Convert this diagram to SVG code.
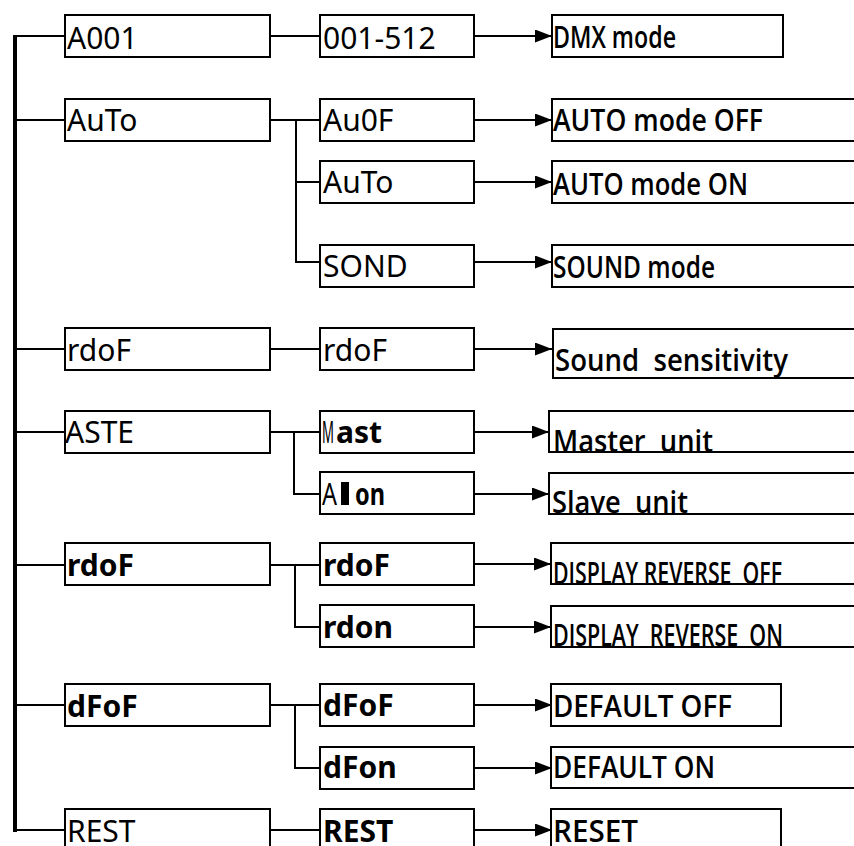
<svg xmlns="http://www.w3.org/2000/svg" width="854" height="846" viewBox="0 0 854 846">
<defs>
<marker id="arr" markerUnits="userSpaceOnUse" markerWidth="18" markerHeight="14" refX="17" refY="6.5" orient="auto">
<path d="M0,0 L17,6.5 L0,13 Z" fill="#000"/>
</marker>
<style>
.box{fill:#fff;stroke:#000;stroke-width:2}
.ln{fill:none;stroke:#000;stroke-width:2}
.ar{fill:none;stroke:#000;stroke-width:2;marker-end:url(#arr)}
.t{font-family:"Noto Sans","Open Sans","DejaVu Sans",sans-serif;font-size:30px;fill:#000}
.b{font-weight:bold}
.c{font-family:"Open Sans","Noto Sans","DejaVu Sans",sans-serif;font-size:31px;font-weight:600;fill:#000}
</style>
</defs>
<rect width="854" height="846" fill="#fff"/>

<g id="connectors">
<line x1="15" y1="35" x2="15" y2="832" stroke="#000" stroke-width="4"/>
<path class="ln" d="M15,36 H65 M15,120 H65 M15,349 H65 M15,432 H65 M15,565 H65 M15,705 H65 M15,830 H65"/>
<path class="ln" d="M270,36 H320"/>
<path class="ln" d="M270,120 H320 M296,120 V262 H320 M296,182 H320"/>
<path class="ln" d="M270,349 H320"/>
<path class="ln" d="M267,432 H320 M294,432 V494 H320"/>
<path class="ln" d="M270,565 H320 M295,565 V627 H320"/>
<path class="ln" d="M270,705 H320 M295,705 V768 H320"/>
<path class="ln" d="M270,830 H320"/>
<line class="ar" x1="474" y1="36" x2="552" y2="36"/>
<line class="ar" x1="474" y1="120" x2="552" y2="120"/>
<line class="ar" x1="474" y1="182" x2="552" y2="182"/>
<line class="ar" x1="474" y1="262" x2="552" y2="262"/>
<line class="ar" x1="474" y1="349" x2="552" y2="349"/>
<line class="ar" x1="472" y1="432" x2="549" y2="432"/>
<line class="ar" x1="472" y1="494" x2="549" y2="494"/>
<line class="ar" x1="474" y1="564" x2="551" y2="564"/>
<line class="ar" x1="474" y1="627" x2="551" y2="627"/>
<line class="ar" x1="474" y1="705" x2="552" y2="705"/>
<line class="ar" x1="474" y1="768" x2="552" y2="768"/>
<line class="ar" x1="474" y1="830" x2="552" y2="830"/>
</g>

<g id="n-A001"><rect class="box" x="65" y="15" width="205" height="42"/><text class="t" x="67" y="49">A001</text></g>
<g id="n-AuTo1"><rect class="box" x="65" y="99" width="205" height="42"/><text class="t" x="67" y="131">AuTo</text></g>
<g id="n-rdoF1"><rect class="box" x="65" y="328" width="205" height="42"/><text class="t" x="67" y="361">rdoF</text></g>
<g id="n-ASTE"><rect class="box" x="65" y="411" width="205" height="42"/><text class="t" x="65" y="443">ASTE</text></g>
<g id="n-rdoF2"><rect class="box" x="65" y="543" width="205" height="42"/><text class="t b" x="67" y="576">rdoF</text></g>
<g id="n-dFoF1"><rect class="box" x="65" y="684" width="205" height="42"/><text class="t b" x="67" y="717">dFoF</text></g>
<g id="n-REST1"><rect class="box" x="65" y="809" width="205" height="60"/><text class="t" x="67" y="842">REST</text></g>

<g id="n-001-512"><rect class="box" x="320" y="15" width="154" height="42"/><text class="t" x="323" y="49">001-512</text></g>
<g id="n-Au0F"><rect class="box" x="320" y="99" width="154" height="42"/><text class="t" x="323" y="131">Au0F</text></g>
<g id="n-AuTo2"><rect class="box" x="320" y="161" width="154" height="42"/><text class="t" x="323" y="193">AuTo</text></g>
<g id="n-SOND"><rect class="box" x="320" y="245" width="154" height="42"/><text class="t" x="323" y="277">SOND</text></g>
<g id="n-rdoF3"><rect class="box" x="320" y="328" width="154" height="42"/><text class="t" x="323" y="361">rdoF</text></g>
<g id="n-Mast"><rect class="box" x="320" y="411" width="154" height="42"/><text class="t" x="322" y="443" textLength="12" lengthAdjust="spacingAndGlyphs">M</text><text class="t b" x="336" y="443">ast</text></g>
<g id="n-Alon"><rect class="box" x="320" y="472" width="154" height="42"/><text class="t" x="322" y="505" textLength="15" lengthAdjust="spacingAndGlyphs">A</text><rect x="341" y="482" width="8" height="23" fill="#000"/><text class="t b" x="355" y="505" textLength="30" lengthAdjust="spacingAndGlyphs">on</text></g>
<g id="n-rdoF4"><rect class="box" x="320" y="543" width="154" height="42"/><text class="t b" x="323" y="576">rdoF</text></g>
<g id="n-rdon"><rect class="box" x="320" y="605" width="154" height="42"/><text class="t b" x="323" y="638">rdon</text></g>
<g id="n-dFoF2"><rect class="box" x="320" y="684" width="154" height="42"/><text class="t b" x="323" y="716">dFoF</text></g>
<g id="n-dFon"><rect class="box" x="320" y="747" width="154" height="42"/><text class="t b" x="323" y="778">dFon</text></g>
<g id="n-REST2"><rect class="box" x="320" y="809" width="154" height="60"/><text class="t b" x="323" y="842">REST</text></g>

<g id="n-dmx"><rect class="box" x="552" y="15" width="231" height="42"/><text class="c" x="553" y="48" textLength="123" lengthAdjust="spacingAndGlyphs">DMX mode</text></g>
<g id="n-autooff"><rect class="box" x="552" y="99" width="320" height="42"/><text class="c" x="553" y="131" textLength="210" lengthAdjust="spacingAndGlyphs">AUTO mode OFF</text></g>
<g id="n-autoon"><rect class="box" x="552" y="161" width="320" height="42"/><text class="c" x="553" y="195" textLength="195" lengthAdjust="spacingAndGlyphs">AUTO mode ON</text></g>
<g id="n-sound"><rect class="box" x="552" y="245" width="320" height="42"/><text class="c" x="553" y="278" textLength="162" lengthAdjust="spacingAndGlyphs">SOUND mode</text></g>
<g id="n-sens"><rect class="box" x="553" y="329" width="320" height="49"/><text class="c" x="555" y="371" textLength="233" lengthAdjust="spacingAndGlyphs" xml:space="preserve">Sound  sensitivity</text></g>
<g id="n-master"><rect class="box" x="549" y="411" width="320" height="41"/><text class="c" x="553" y="452" textLength="160" lengthAdjust="spacingAndGlyphs" xml:space="preserve">Master  unit</text></g>
<g id="n-slave"><rect class="box" x="549" y="473" width="320" height="41"/><text class="c" x="552" y="513" textLength="136" lengthAdjust="spacingAndGlyphs" xml:space="preserve">Slave  unit</text></g>
<g id="n-dispoff"><rect class="box" x="551" y="543" width="320" height="41"/><text class="c" x="553" y="584" textLength="229" lengthAdjust="spacingAndGlyphs" xml:space="preserve">DISPLAY REVERSE  OFF</text></g>
<g id="n-dispon"><rect class="box" x="551" y="606" width="320" height="41"/><text class="c" x="553" y="646" textLength="230" lengthAdjust="spacingAndGlyphs" xml:space="preserve">DISPLAY  REVERSE  ON</text></g>
<g id="n-defoff"><rect class="box" x="551" y="684" width="230" height="42"/><text class="c" x="553" y="717" textLength="179" lengthAdjust="spacingAndGlyphs">DEFAULT OFF</text></g>
<g id="n-defon"><rect class="box" x="551" y="747" width="320" height="41"/><text class="c" x="553" y="778" textLength="162" lengthAdjust="spacingAndGlyphs">DEFAULT ON</text></g>
<g id="n-reset"><rect class="box" x="551" y="809" width="230" height="60"/><text class="c" x="553" y="842" textLength="85" lengthAdjust="spacingAndGlyphs">RESET</text></g>
</svg>
